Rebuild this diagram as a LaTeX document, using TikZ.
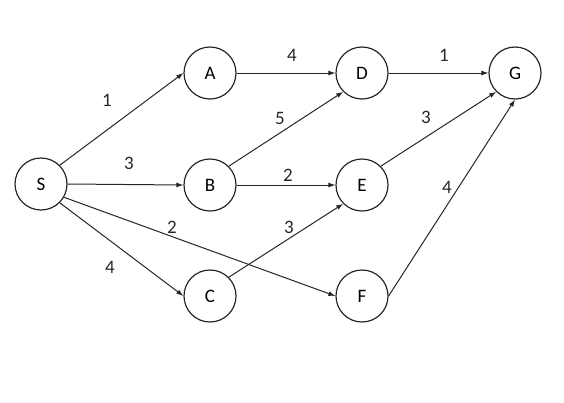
\documentclass[tikz,border=0pt]{standalone}
\usepackage{fontspec}
\setmainfont{Carlito}
\usetikzlibrary{arrows.meta}
\begin{document}
\begin{tikzpicture}[x=1pt,y=-1pt,
  vert/.style={circle,draw=black!85,line width=1.2pt,minimum size=52pt,inner sep=0pt,font=\fontsize{19}{21}\selectfont},
  edge/.style={draw=black!85,line width=1pt,-{Latex[length=7pt,width=5pt]}},
  wt/.style={font=\fontsize{19}{21}\selectfont,text=black!85,inner sep=0pt}]
\useasboundingbox (0,0) rectangle (564,402);
\node[vert] (S) at (41,184) {S};
\node[vert] (A) at (210,73) {A};
\node[vert] (B) at (210,185) {B};
\node[vert] (C) at (210,296) {C};
\node[vert] (D) at (362,73) {D};
\node[vert] (E) at (362,185) {E};
\node[vert] (F) at (362,296) {F};
\node[vert] (G) at (515,73) {G};
\draw[edge] (S.north east) -- (A.west);
\draw[edge] (S.east) -- (B.west);
\draw[edge] (S.-30) -- (F.west);
\draw[edge] (S.south east) -- (C.west);
\draw[edge] (A.east) -- (D.west);
\draw[edge] (B.north east) -- (D.south west);
\draw[edge] (B.east) -- (E.west);
\draw[edge] (C.north east) -- (E.south west);
\draw[edge] (D.east) -- (G.west);
\draw[edge] (E.north east) -- (G.south west);
\draw[edge] (F.east) -- (G.south);
\node[wt] (w1) at (107,100) {1};
\node[wt] (w2) at (129,163) {3};
\node[wt] (w3) at (172,227) {2};
\node[wt] (w4) at (110,267) {4};
\node[wt] (w5) at (292,55) {4};
\node[wt] (w6) at (280,118) {5};
\node[wt] (w7) at (288,175) {2};
\node[wt] (w8) at (289,227) {3};
\node[wt] (w9) at (444,55) {1};
\node[wt] (w10) at (426,117) {3};
\node[wt] (w11) at (447,187) {4};
\end{tikzpicture}
\end{document}
